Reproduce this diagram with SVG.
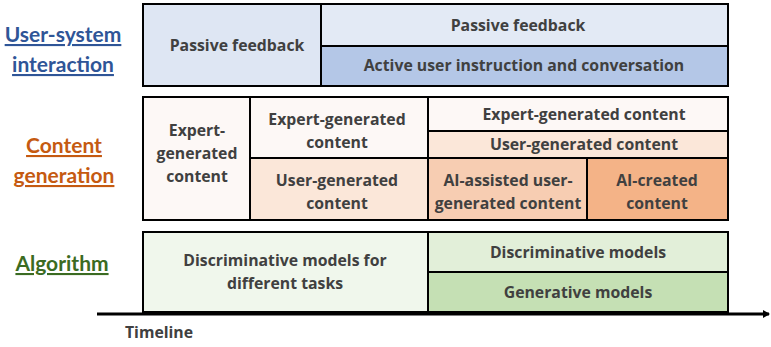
<svg xmlns="http://www.w3.org/2000/svg" width="771" height="347" viewBox="0 0 771 347">
<defs>
<style>
.b{stroke:#000;stroke-width:2}
.t{font-family:"Open Sans",Lato,sans-serif;font-weight:bold;font-size:15.8px;fill:#404040;text-anchor:middle}
.h{font-family:Lato,"Open Sans",sans-serif;font-weight:bold;font-size:21px;text-anchor:middle;text-decoration:underline}
</style>
<marker id="ah" markerWidth="8" markerHeight="8" refX="6" refY="4" orient="auto" markerUnits="userSpaceOnUse">
<path d="M0,0 L7,4 L0,8 Z" fill="#000"/>
</marker>
</defs>
<rect width="771" height="347" fill="#fff"/>
<g id="labels">
<text class="h" x="63" y="42" fill="#2F5597">User-system</text>
<text class="h" x="63" y="72" fill="#2F5597">interaction</text>
<text class="h" x="64" y="153" fill="#C55A11">Content</text>
<text class="h" x="64" y="183" fill="#C55A11">generation</text>
<text class="h" x="62" y="271" fill="#3B6B22">Algorithm</text>
</g>
<g id="connectors">
<line x1="97" y1="314" x2="769" y2="314" stroke="#000" stroke-width="3" marker-end="url(#ah)"/>
</g>
<text class="t" x="159" y="338">Timeline</text>
<g id="interaction">
<rect class="b" x="143" y="4" width="178" height="82" fill="#DEE6F3"/>
<rect class="b" x="321" y="4" width="407" height="42" fill="#E3EAF5"/>
<rect class="b" x="321" y="46" width="407" height="40" fill="#B4C7E7"/>
<text class="t" x="237" y="51">Passive feedback</text>
<text class="t" x="518" y="31">Passive feedback</text>
<text class="t" x="524" y="71">Active user instruction and conversation</text>
</g>
<g id="content">
<rect class="b" x="143" y="97" width="107" height="123" fill="#FDF8F6"/>
<rect class="b" x="250" y="97" width="178" height="61" fill="#FDF8F6"/>
<rect class="b" x="250" y="158" width="178" height="62" fill="#FBE7D9"/>
<rect class="b" x="428" y="97" width="300" height="34" fill="#FDF8F6"/>
<rect class="b" x="428" y="131" width="300" height="27" fill="#FBE7D9"/>
<rect class="b" x="428" y="158" width="159" height="62" fill="#F7CDB2"/>
<rect class="b" x="587" y="158" width="141" height="62" fill="#F4B387"/>
<text class="t" x="197" y="136">Expert-</text>
<text class="t" x="197" y="159">generated</text>
<text class="t" x="197" y="182">content</text>
<text class="t" x="337" y="125">Expert-generated</text>
<text class="t" x="337" y="148">content</text>
<text class="t" x="337" y="186">User-generated</text>
<text class="t" x="337" y="209">content</text>
<text class="t" x="584" y="120">Expert-generated content</text>
<text class="t" x="584" y="150">User-generated content</text>
<text class="t" x="508" y="186">AI-assisted user-</text>
<text class="t" x="508" y="209">generated content</text>
<text class="t" x="657" y="186">AI-created</text>
<text class="t" x="657" y="209">content</text>
</g>
<g id="algorithm">
<rect class="b" x="143" y="232" width="285" height="80" fill="#F0F7EC"/>
<rect class="b" x="428" y="232" width="300" height="40" fill="#E2EFD9"/>
<rect class="b" x="428" y="272" width="300" height="40" fill="#C5E0B4"/>
<text class="t" x="285" y="266">Discriminative models for</text>
<text class="t" x="285" y="289">different tasks</text>
<text class="t" x="578" y="258">Discriminative models</text>
<text class="t" x="578" y="298">Generative models</text>
</g>
</svg>
